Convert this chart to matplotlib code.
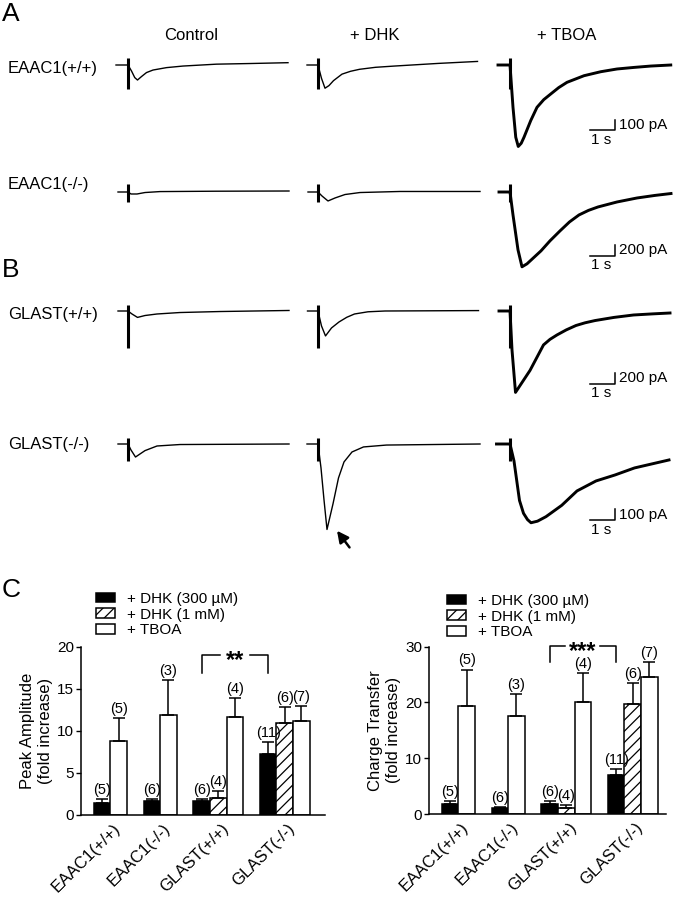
import numpy as np
import matplotlib.pyplot as plt
from matplotlib.patches import Patch

plt.rcParams['font.family'] = ['Liberation Sans', 'DejaVu Sans']
plt.rcParams['hatch.linewidth'] = 0.9

W, H = 683, 900          # figure size in pixels
PX_S = 25.0              # pixels per second in the traces
PX_BAR = 10.5            # pixels for one vertical scale bar

# ---------------- traces (t in s from stimulus, current in pA) ----------------
rows = ['EAAC1(+/+)', 'EAAC1(-/-)', 'GLAST(+/+)', 'GLAST(-/-)']
conds = ['Control', '+ DHK', '+ TBOA']
scale_pa = [100, 200, 200, 100]
artifact = [(70, -231), (143, -182), (105, -705), (60, -162)]

t_e1_ctl = [-0.48, 0, 0.14, 0.27, 0.38, 0.54, 0.74, 1.0, 1.54, 2.2, 3.54, 4.87, 6.4]
i_e1_ctl = [0, 0, -57, -120, -143, -110, -72, -48, -25, -10, 8, 14, 22]
t_e1_dhk = [-0.44, 0, 0.14, 0.28, 0.44, 0.62, 0.96, 1.3, 1.66, 2.3, 3.06, 4.8, 6.38]
i_e1_dhk = [0, 0, -127, -221, -196, -149, -87, -60, -41, -22, -10, 15, 34]
t_e1_tboa = [-0.48, 0, 0.12, 0.23, 0.33, 0.45, 0.56, 0.83, 1.08, 1.35, 1.63, 1.95, 2.28, 2.96,
             3.63, 4.28, 4.96, 5.63, 6.43]
i_e1_tboa = [0, 0, -403, -688, -776, -745, -688, -529, -403, -330, -276, -215, -165, -102,
             -64, -38, -23, -10, 0]

t_e2_ctl = [-0.4, 0, 0.12, 0.36, 0.68, 1.28, 3.5, 6.44]
i_e2_ctl = [0, 0, -38, -38, -10, 8, 15, 19]
t_e2_dhk = [-0.4, 0, 0.16, 0.4, 0.68, 1.08, 1.68, 3.28, 6.48]
i_e2_dhk = [0, 0, -76, -171, -114, -48, -10, 10, 10]
t_e2_tboa = [-0.44, 0, 0.12, 0.32, 0.48, 0.68, 1.24, 1.6, 2.0, 2.38, 2.76, 3.14, 3.52, 4.28,
             5.08, 5.8, 6.44]
i_e2_tboa = [0, 0, -437, -1102, -1425, -1368, -1121, -930, -741, -570, -437, -350, -285, -190,
             -114, -65, -29]

t_g1_ctl = [-0.4, 0, 0.16, 0.38, 0.68, 1.16, 2.08, 3.68, 6.44]
i_g1_ctl = [0, 0, -57, -122, -86, -57, -29, -10, 10]
t_g1_dhk = [-0.42, 0, 0.14, 0.3, 0.54, 0.84, 1.15, 1.46, 2.0, 2.68, 6.42]
i_g1_dhk = [0, 0, -285, -475, -323, -209, -120, -57, -15, 0, 8]
t_g1_tboa = [-0.44, 0, 0.08, 0.22, 0.8, 1.34, 1.6, 1.88, 2.25, 2.64, 3.0, 3.4, 4.16, 4.94, 5.7,
             6.4]
i_g1_tboa = [0, 0, -741, -1550, -1132, -646, -540, -456, -360, -276, -225, -182, -122, -76, -55,
             -38]

t_g2_ctl = [-0.4, 0, 0.12, 0.3, 0.48, 0.68, 1.16, 2.08, 6.44]
i_g2_ctl = [0, 0, -57, -124, -95, -63, -19, -5, 0]
t_g2_dhk = [-0.44, 0, 0.12, 0.24, 0.36, 0.6, 0.82, 1.04, 1.36, 1.82, 2.74, 6.48]
i_g2_dhk = [0, 0, -228, -532, -814, -570, -323, -171, -76, -28, -10, 0]
t_g2_tboa = [-0.54, 0, 0.16, 0.38, 0.54, 0.7, 0.84, 1.1, 1.44, 2.07, 2.68, 3.44, 4.2, 4.98,
             5.76, 6.36]
i_g2_tboa = [0, 0, -162, -538, -660, -720, -750, -735, -692, -584, -447, -352, -295, -228,
             -185, -152]

traces = [[(t_e1_ctl, i_e1_ctl), (t_e1_dhk, i_e1_dhk), (t_e1_tboa, i_e1_tboa)],
          [(t_e2_ctl, i_e2_ctl), (t_e2_dhk, i_e2_dhk), (t_e2_tboa, i_e2_tboa)],
          [(t_g1_ctl, i_g1_ctl), (t_g1_dhk, i_g1_dhk), (t_g1_tboa, i_g1_tboa)],
          [(t_g2_ctl, i_g2_ctl), (t_g2_dhk, i_g2_dhk), (t_g2_tboa, i_g2_tboa)]]

# ---------------- bar charts ----------------
groups = ['EAAC1(+/+)', 'EAAC1(-/-)', 'GLAST(+/+)', 'GLAST(-/-)']
series_names = ['+ DHK (300 \u00b5M)', '+ DHK (1 mM)', '+ TBOA']
nan = np.nan

amp_dhk300 = [1.4, 1.65, 1.65, 7.3]
amp_dhk300_err = [0.45, 0.25, 0.25, 1.4]
amp_dhk1 = [nan, nan, 2.05, 10.9]
amp_dhk1_err = [nan, nan, 0.8, 1.9]
amp_tboa = [8.75, 11.9, 11.6, 11.15]
amp_tboa_err = [2.8, 4.1, 2.35, 1.85]

q_dhk300 = [1.8, 1.0, 1.8, 7.0]
q_dhk300_err = [0.6, 0.3, 0.5, 1.0]
q_dhk1 = [nan, nan, 1.1, 19.7]
q_dhk1_err = [nan, nan, 0.5, 3.8]
q_tboa = [19.4, 17.6, 20.0, 24.5]
q_tboa_err = [6.5, 3.9, 5.3, 2.8]

n_dhk300 = [5, 6, 6, 11]
n_dhk1 = [0, 0, 4, 6]
n_tboa = [5, 3, 4, 7]


def px_rect(left, top, right, bottom):
    return [left / W, 1 - bottom / H, (right - left) / W, (bottom - top) / H]


def ftext(x, y, s, **kw):
    fig.text(x / W, 1 - y / H, s, **kw)


fig = plt.figure(figsize=(W / 100, H / 100), dpi=100)

# ---------------- panel A / B : traces ----------------
col_x = [128, 318, 510]          # stimulus artifact x (px)
row_y = [65, 192, 311, 444]      # baseline y (px)
lws = [1.0, 1.0, 2.1]

for r in range(4):
    k = scale_pa[r] / PX_BAR     # pA per pixel
    for c in range(3):
        x0, y0 = col_x[c], row_y[r]
        ax = fig.add_axes(px_rect(x0 - 25, y0 - 25, x0 + 175, y0 + 115))
        ax.set_xlim(-25 / PX_S, 175 / PX_S)
        ax.set_ylim(-115 * k, 25 * k)
        ax.axis('off')
        ax.patch.set_visible(False)
        t, i = traces[r][c]
        ax.plot(t, i, color='k', lw=lws[c], solid_joinstyle='round')
        ax.plot([0, 0], artifact[r], color='k', lw=2.2, solid_capstyle='butt')
        if c == 2:
            # scale bar: 1 s and 100/200 pA
            sy = -{0: 65, 1: 63.5, 2: 72.5, 3: 76}[r] * k
            sx = 3.2
            ax.plot([sx, sx + 1, sx + 1], [sy, sy, sy + scale_pa[r]], color='k', lw=1.1)
            ax.text(sx + 1.15, sy + scale_pa[r] / 2, '%d pA' % scale_pa[r],
                    ha='left', va='center', fontsize=11)
            ax.annotate('1 s', (sx + 0.45, sy), xytext=(0, -2), textcoords='offset points',
                        ha='center', va='top', fontsize=11)
        if r == 3 and c == 1:
            ax.annotate('', xy=(0.76, -826), xytext=(1.26, -985),
                        arrowprops=dict(arrowstyle='-|>', color='k', lw=1.8,
                                        mutation_scale=17, shrinkA=0, shrinkB=0))

for name, y in zip(rows, [68, 185, 315, 444]):
    ftext(8, y, name, ha='left', va='center', fontsize=12)
for name, x in zip(conds, [191, 375, 567]):
    ftext(x, 36, name, ha='center', va='center', fontsize=12)
ftext(2, 21, 'A', fontsize=19, va='baseline')
ftext(2, 277, 'B', fontsize=19, va='baseline')
ftext(2, 597, 'C', fontsize=19, va='baseline')

# ---------------- panel C : bar charts ----------------
panels = [
    dict(rect=(81, 646.7, 325, 815), ymax=20, yticks=[0, 5, 10, 15, 20],
         vals=[amp_dhk300, amp_dhk1, amp_tboa], errs=[amp_dhk300_err, amp_dhk1_err, amp_tboa_err],
         ylabel='Peak Amplitude\n(fold increase)', bracket=(16.9, 19.0), gap=0.9,
         stars='**', leg=(96, 592)),
    dict(rect=(429, 646.7, 666, 814), ymax=30, yticks=[0, 10, 20, 30],
         vals=[q_dhk300, q_dhk1, q_tboa], errs=[q_dhk300_err, q_dhk1_err, q_tboa_err],
         ylabel='Charge Transfer\n(fold increase)', bracket=(27.2, 30.1), gap=1.05,
         stars='***', leg=(447, 594)),
]
fills = ['k', 'w', 'w']
hatches = [None, '///', None]
ns = [n_dhk300, n_dhk1, n_tboa]
bar_px = 16.6

for p in panels:
    l, t, rr, b = p['rect']
    ax = fig.add_axes(px_rect(l, t, rr, b))
    # place bars in consecutive slots, one empty slot between groups
    slot = 0
    centers = []
    black_x = []
    for g in range(len(groups)):
        xs = []
        for s in range(3):
            v = p['vals'][s][g]
            if np.isnan(v):
                continue
            x = slot + 0.5
            ax.bar(x, v, width=1.0, color=fills[s], edgecolor='k', lw=1.1,
                   hatch=hatches[s], zorder=2)
            ax.errorbar(x, v, yerr=[[0], [p['errs'][s][g]]], fmt='none', ecolor='k',
                        elinewidth=1.1, capsize=4, capthick=1.1, zorder=3)
            ax.annotate('(%d)' % ns[s][g], (x, v + p['errs'][s][g]), xytext=(0, 1.5),
                        textcoords='offset points', ha='center', va='bottom', fontsize=10.5)
            if s == 0:
                black_x.append(x)
            xs.append(x)
            slot += 1
        centers.append(np.mean(xs))
        slot += 1
    x_lo = -0.77
    ax.set_xlim(x_lo, x_lo + (rr - l) / bar_px)
    ax.set_ylim(0, p['ymax'])
    ax.set_yticks(p['yticks'])
    ax.set_xticks(np.array(centers) + 0.15)
    ax.set_xticklabels(groups, rotation=45, ha='right', va='top',
                       rotation_mode='anchor', fontsize=12)
    ax.tick_params(axis='x', length=0, pad=4)
    ax.tick_params(axis='y', length=3.5, width=1.0, labelsize=11, pad=1.5)
    for sp in ['top', 'right']:
        ax.spines[sp].set_visible(False)
    for sp in ['left', 'bottom']:
        ax.spines[sp].set_linewidth(1.1)
    ax.set_ylabel(p['ylabel'], fontsize=12, labelpad=3)
    # significance bracket between the DHK (300 uM) bars of the GLAST groups
    y_lo, y_hi = p['bracket']
    xa, xb = black_x[2], black_x[3]
    xm = (xa + xb) / 2
    ax.plot([xa, xa, xm - p['gap']], [y_lo, y_hi, y_hi], color='k', lw=1.1,
            clip_on=False, zorder=3)
    ax.plot([xm + p['gap'], xb, xb], [y_hi, y_hi, y_lo], color='k', lw=1.1,
            clip_on=False, zorder=3)
    ax.annotate(p['stars'], (xm, y_hi), xytext=(0, -3.9), textcoords='offset points',
                ha='center', va='center', fontsize=17, fontweight='bold', zorder=4,
                annotation_clip=False)
    handles = [Patch(fc=fills[s], ec='k', lw=1.1, hatch=hatches[s]) for s in range(3)]
    lx, ly = p['leg']
    ax.legend(handles, series_names, loc='upper left', bbox_to_anchor=(lx / W, 1 - ly / H),
              bbox_transform=fig.transFigure, frameon=False, fontsize=11,
              handlelength=1.25, handleheight=0.6, handletextpad=0.8,
              labelspacing=0.1, borderpad=0, borderaxespad=0)

fig.savefig('out.png', dpi=100)
